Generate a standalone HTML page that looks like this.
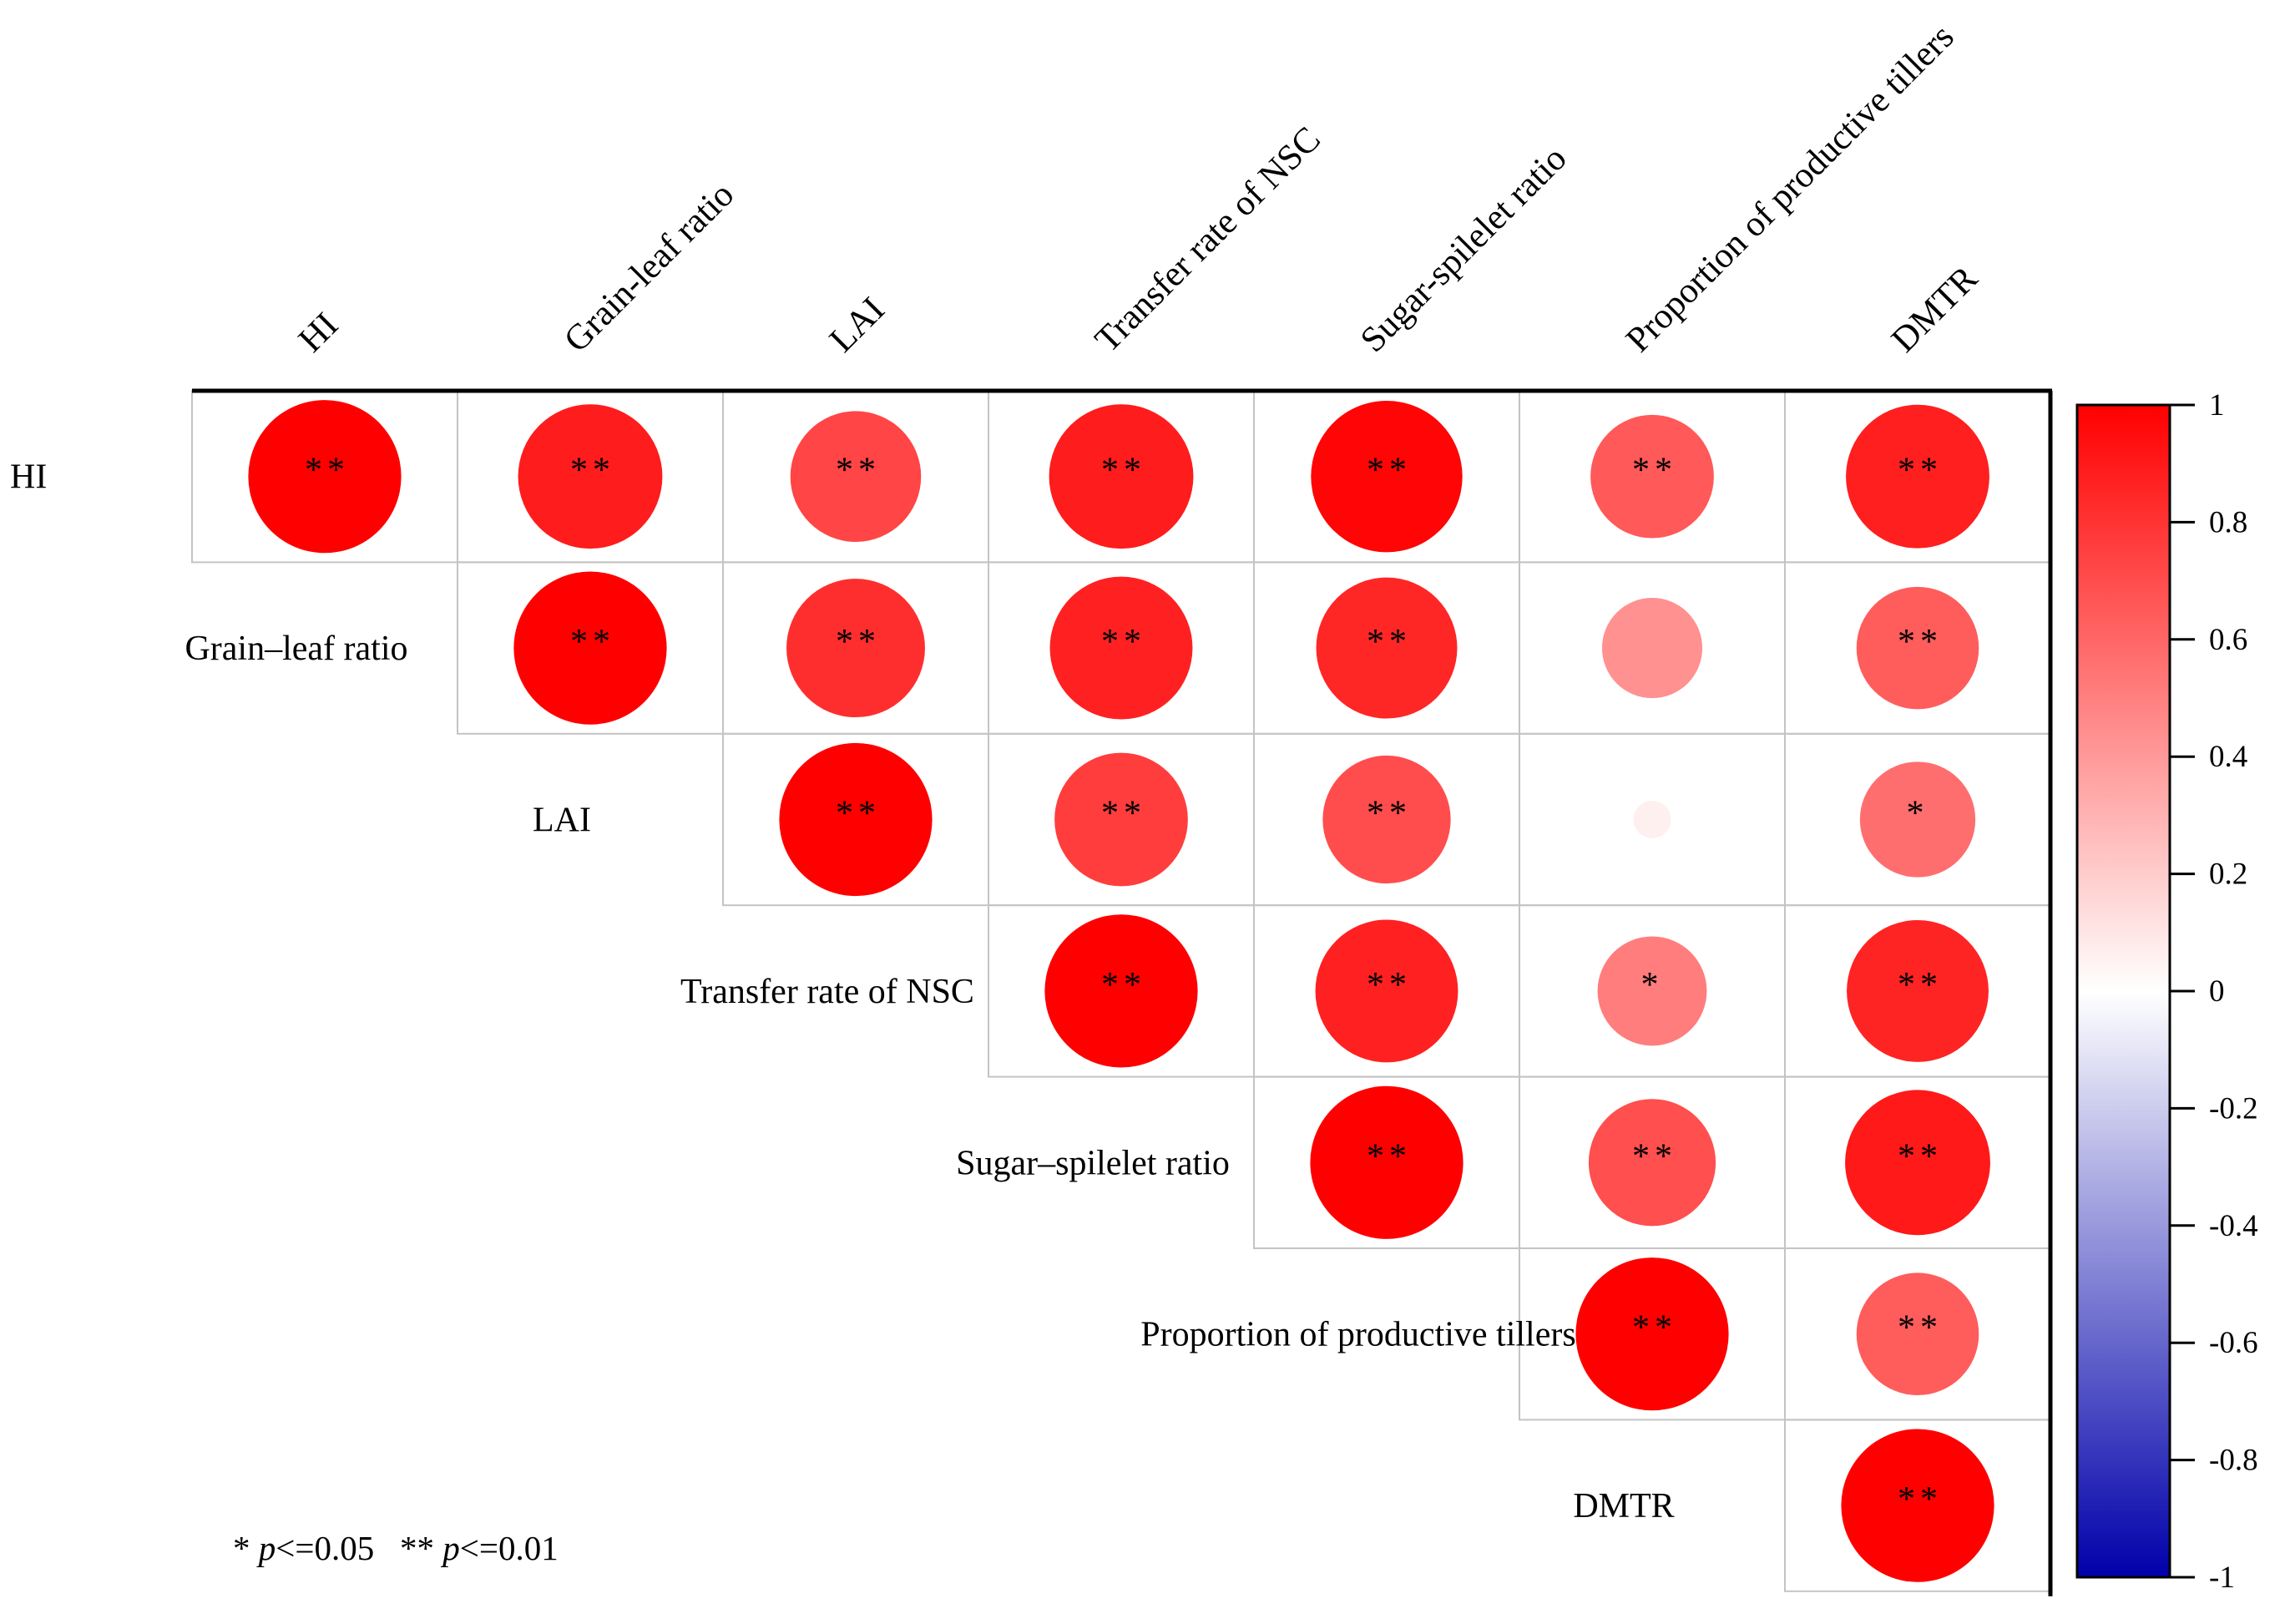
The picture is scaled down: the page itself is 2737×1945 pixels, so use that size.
<!DOCTYPE html>
<html><head><meta charset="utf-8"><style>
html,body{margin:0;padding:0;background:#fff}
svg{display:block}
text{font-family:"Liberation Serif",serif;fill:#000}
</style></head><body>
<svg id="chart" width="2737" height="1945" viewBox="0 0 2737 1945" xmlns="http://www.w3.org/2000/svg">
<defs>
<linearGradient id="cbgrad" x1="0" y1="0" x2="0" y2="1">
<stop offset="0" stop-color="#ff0000"/>
<stop offset="0.5" stop-color="#ffffff"/>
<stop offset="1" stop-color="#0000aa"/>
</linearGradient>
</defs>
<g id="grid"></g>
<g id="marks"></g>
<g id="labels"></g>
<g id="cbar"></g>
<text x="279" y="1868" font-size="41" xml:space="preserve">* <tspan font-style="italic">p</tspan>&lt;=0.05   ** <tspan font-style="italic">p</tspan>&lt;=0.01</text>
</svg>
<script>
const variables = ["HI","Grain\u2013leaf ratio","LAI","Transfer rate of NSC","Sugar\u2013spilelet ratio","Proportion of productive tillers","DMTR"];
const colLabels = ["HI","Grain-leaf ratio","LAI","Transfer rate of NSC","Sugar-spilelet ratio","Proportion of productive tillers","DMTR"];
const corrRow0 = [1, 0.89, 0.73, 0.89, 0.98, 0.65, 0.88];
const corrRow1 = [1, 0.82, 0.87, 0.85, 0.43, 0.64];
const corrRow2 = [1, 0.76, 0.70, 0.06, 0.57];
const corrRow3 = [1, 0.87, 0.51, 0.86];
const corrRow4 = [1, 0.69, 0.90];
const corrRow5 = [1, 0.64];
const corrRow6 = [1];
const sigRow0 = ["**","**","**","**","**","**","**"];
const sigRow1 = ["**","**","**","**","","**"];
const sigRow2 = ["**","**","**","","*"];
const sigRow3 = ["**","**","*","**"];
const sigRow4 = ["**","**","**"];
const sigRow5 = ["**","**"];
const sigRow6 = ["**"];
const cbTicks = [1,0.8,0.6,0.4,0.2,0,-0.2,-0.4,-0.6,-0.8,-1];

const NS="http://www.w3.org/2000/svg";
const X0=230, Y0=468, CW=318, CH=205.4, N=7;
const xc = j => X0 + CW*(j+0.5);
const yc = i => Y0 + CH*(i+0.5);
const rScale = v => 0.446*CH*Math.sqrt(Math.abs(v));
function color(v){
  if(v>=0){const g=Math.round(255*(1-v));return `rgb(255,${g},${g})`;}
  const a=-v;return `rgb(${Math.round(255*(1-a))},${Math.round(255*(1-a))},${Math.round(255-85*a)})`;
}
function el(tag,attrs,parent){const e=document.createElementNS(NS,tag);for(const k in attrs)e.setAttribute(k,attrs[k]);parent.appendChild(e);return e;}
const rows=[corrRow0,corrRow1,corrRow2,corrRow3,corrRow4,corrRow5,corrRow6];
const sigs=[sigRow0,sigRow1,sigRow2,sigRow3,sigRow4,sigRow5,sigRow6];
const grid=document.getElementById('grid'), marks=document.getElementById('marks'), labels=document.getElementById('labels'), cbar=document.getElementById('cbar');

for(let i=0;i<N;i++){
  for(let j=i;j<N;j++){
    const c=el('rect',{x:X0+CW*j,y:Y0+CH*i,width:CW,height:CH,fill:'none',stroke:'#c4c4c4','stroke-width':2},grid);
    
    
    const v=rows[i][j-i];
    const circ=el('circle',{cx:xc(j),cy:yc(i),r:rScale(v),fill:color(v)},marks);
    
    
    const s=sigs[i][j-i];
    if(s){
      const t=el('text',{x:xc(j)+(s.length>1?3:0),y:yc(i)+6,'font-size':42,'letter-spacing':6,'text-anchor':'middle'},marks);
      t.textContent=s;
      
      
    }
  }
}
const tb=el('line',{x1:X0,y1:Y0,x2:X0+CW*N+2,y2:Y0,stroke:'#000','stroke-width':5},grid);


const rb=el('line',{x1:X0+CW*N,y1:Y0,x2:X0+CW*N,y2:Y0+CH*N+6,stroke:'#000','stroke-width':5},grid);



for(let i=0;i<N;i++){
  let t;
  if(i===0){ t=el('text',{x:12,y:yc(0)+14,'font-size':42},labels); }
  else { t=el('text',{x:xc(i-1)-34,y:yc(i)+14,'font-size':42,'text-anchor':'middle'},labels); }
  t.textContent=variables[i];
  
  
}
for(let j=0;j<N;j++){
  const x=xc(j)-14, y=424;
  const t=el('text',{x:x,y:y,'font-size':43,transform:`rotate(-45 ${x} ${y})`},labels);
  t.textContent=colLabels[j];
  
  
}
const CBX=2488, CBW=111, CBT=485, CBB=1889;
const cb=el('rect',{x:CBX,y:CBT,width:CBW,height:CBB-CBT,fill:'url(#cbgrad)',stroke:'#000','stroke-width':3},cbar);


const cy = v => CBT + (1-v)/2*(CBB-CBT);
cbTicks.forEach(v=>{
  const l=el('line',{x1:CBX+CBW,y1:cy(v),x2:CBX+CBW+30,y2:cy(v),stroke:'#000','stroke-width':3},cbar);
  
  
  const t=el('text',{x:2646,y:cy(v)+12,'font-size':37},cbar);
  t.textContent=String(v);
  
  
});
</script>
</body></html>
